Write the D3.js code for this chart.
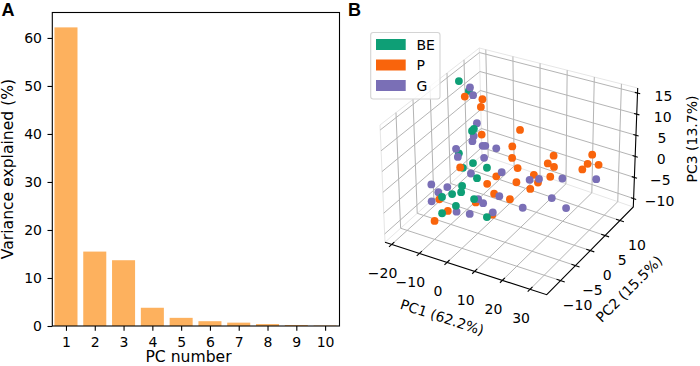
<!DOCTYPE html>
<html>
<head>
<meta charset="utf-8">
<style>
body { margin: 0; background: #fff; }
text { font-family: "DejaVu Sans"; font-size: 14px; fill: #000; }
.label2d { font-size: 15.6px; }
.panel { font-family: "Liberation Sans"; font-size: 18px; font-weight: bold; }
.grid { stroke: #b4b4b4; stroke-width: 1; fill: none; }
.pane { stroke: #e6e6e6; stroke-width: 1; fill: none; }
.axis3 { stroke: #000; stroke-width: 1.1; fill: none; }
</style>
</head>
<body>
<svg id="chart" width="700" height="366"></svg>
<script src="https://cdn.jsdelivr.net/npm/d3@7"></script>
<script>
// panel A
var pcNumbers = [1, 2, 3, 4, 5, 6, 7, 8, 9, 10];
var variance = [62.2, 15.5, 13.7, 3.8, 1.7, 1.0, 0.7, 0.4, 0.2, 0.1];

// panel B, [PC1, PC2, PC3]
var groupBE = [[-19.4,6,14.0],[-15.2,5.5,12.6],[-9.4,1.5,6.4],[-9.3,2,6.6],[-10.7,-1.5,2.7],[-5.6,-1.5,1.3],[-1.1,-1,0.7],[-7.5,-3,0.8],[-2.4,-3,-0.7],[-5.5,-5,-1.8],[-5.3,-5.5,-2.9],[-7.4,-6.5,-3.1],[-9.9,-7.5,-3.6],[-1.2,-5,-4.1],[-4.9,-7.5,-4.7],[-8.2,-9,-6.1],[4.6,-6,-6.5]];
var groupP = [[-15.5,4.5,11.8],[-10.3,5.5,11.4],[-10.3,5,9.8],[-6.5,2,5.7],[3.4,5.5,6.3],[3.5,3,4.0],[4.6,2,2.1],[15.8,5.5,2.4],[15.4,4,1.5],[17.7,4,1.1],[7.2,1.5,0.5],[27.2,8,3.1],[26.7,7,1.5],[30.2,7.5,1.6],[25.9,6,0.7],[-8.5,-3,0.7],[2.3,-1,-0.7],[12.6,2,-0.4],[17.5,3,-0.6],[0.7,-2.5,-1.8],[8.5,0,-1.6],[14.7,1.5,-1.5],[13.6,0,-2.2],[3.8,-3,-3.2],[9.0,-2.5,-3.8],[-10.3,-8,-3.9],[-0.0,-5.5,-4.3],[-6.7,-8.5,-5.6],[6.0,-5.5,-6.0],[-9.2,-10.5,-7.1]];
var groupG = [[-15.4,6,13.1],[-13.7,5.5,11.8],[-9.4,3,7.3],[-8.2,1,5.7],[-8.1,0.5,4.8],[-11.7,-1.5,3.6],[-10.5,-2,2.2],[-5.0,1,3.9],[-4.0,1,4.1],[-0.6,1.5,3.8],[-3.3,0,2.0],[-4.6,-3,-0.0],[3.7,-0.5,0.2],[12.2,1,-1.0],[14.5,2,-1.0],[21.4,3.5,-0.6],[31.1,6,-0.6],[-14.3,-7,-1.8],[-9.7,-6,-2.2],[-11.2,-7.5,-2.7],[-11.9,-9,-4.0],[0.3,-5,-3.8],[2.1,-5,-4.4],[5.7,-3,-3.4],[-4.1,-8,-5.6],[-0.5,-7,-6.1],[5.6,-5,-5.9],[13.7,-2.5,-4.9],[20.4,1,-3.7],[25.7,1,-5.0]];
// BE points that sit under the other groups in the picture
var beBehind = [1, 4, 7];

var groupNames = ["BE", "P", "G"];
var groupColors = ["#0e9f76", "#f9640c", "#7a6fb6"];
var pc1Ticks = [-20, -10, 0, 10, 20, 30];
var pc2Ticks = [-10, -5, 0, 5, 10];
var pc3Ticks = [-10, -5, 0, 5, 10, 15];

var svg = d3.select("#chart");

function fmt(d) { return String(d).replace("-", "\u2212"); }

function init_bars() {
    var left = 52.3, right = 339.5, top = 12.5, bottom = 326;
    var x = d3.scaleLinear().domain([0.525, 10.5]).range([left, right]);
    var y = d3.scaleLinear().domain([0, 65.3]).range([bottom, top]);
    var barWidth = x(1.8) - x(1);
    var g = svg.append("g");

    g.selectAll("rect").data(variance).enter().append("rect")
        .attr("x", function (d, i) { return x(pcNumbers[i]) - barWidth / 2; })
        .attr("y", function (d) { return y(d); })
        .attr("width", barWidth)
        .attr("height", function (d) { return bottom - y(d); })
        .attr("fill", "#fdb15e");

    g.append("rect")
        .attr("x", left).attr("y", top)
        .attr("width", right - left).attr("height", bottom - top)
        .attr("fill", "none").attr("stroke", "#000").attr("stroke-width", 1.1);

    var xAxis = g.append("g").attr("transform", "translate(0," + bottom + ")")
        .call(d3.axisBottom(x).tickValues(pcNumbers).tickFormat(d3.format("d")).tickSize(4.8).tickPadding(6));
    var yAxis = g.append("g").attr("transform", "translate(" + left + ",0)")
        .call(d3.axisLeft(y).tickValues([0, 10, 20, 30, 40, 50, 60]).tickSize(4.8).tickPadding(5.5));
    [xAxis, yAxis].forEach(function (a) {
        a.select(".domain").remove();
        a.selectAll("line").attr("stroke-width", 1.1);
        a.selectAll("text").style("font-size", "14px").style("font-family", "DejaVu Sans");
    });

    g.append("text").attr("class", "label2d").attr("x", 188.5).attr("y", 362.3).attr("text-anchor", "middle").text("PC number");
    g.append("text").attr("class", "label2d").attr("transform", "translate(12.5,169) rotate(-90)")
        .attr("text-anchor", "middle").text("Variance explained (%)");
    svg.append("text").attr("class", "panel").attr("x", 1.5).attr("y", 16.3).text("A");
}

function init_scatter3d() {
    var s1 = d3.scaleLinear().domain([-22.4, 36]).range([0, 1]),
        s2 = d3.scaleLinear().domain([-14.7, 14.5]).range([0, 1]),
        s3 = d3.scaleLinear().domain([-12, 16.2]).range([0, 1]);
    var min1 = -22.4, max1 = 36, min2 = -14.7, max2 = 14.5, min3 = -12, max3 = 16.2;

    // box corners on screen: floor then top, left / front / right / back
    var L0 = [385, 242.3], F0 = [546.7, 294.7], R0 = [633.3, 207], B0 = [482, 155],
        L1 = [380, 125], F1 = [547, 165], R1 = [637.7, 88], B1 = [479.3, 48];

    function lerp(a, b, t) { return [a[0] + (b[0] - a[0]) * t, a[1] + (b[1] - a[1]) * t]; }
    function project(a, b, c) {
        var u = s1(a), v = s2(b), w = s3(c);
        var lo = lerp(lerp(L0, F0, u), lerp(B0, R0, u), v),
            hi = lerp(lerp(L1, F1, u), lerp(B1, R1, u), v);
        return lerp(lo, hi, w);
    }

    var line = d3.line();
    var g = svg.append("g");
    function path(cls, pts) { g.append("path").attr("class", cls).attr("d", line(pts.map(function (p) { return project(p[0], p[1], p[2]); }))); }

    // pane edges
    path("pane", [[min1, min2, max3], [min1, max2, max3], [max1, max2, max3]]);
    path("pane", [[min1, min2, min3], [min1, max2, min3], [max1, max2, min3]]);
    path("pane", [[min1, min2, min3], [min1, min2, max3]]);
    path("pane", [[min1, max2, min3], [min1, max2, max3]]);

    // grid
    pc1Ticks.forEach(function (t) { path("grid", [[t, min2, min3], [t, max2, min3], [t, max2, max3]]); });
    pc2Ticks.forEach(function (t) { path("grid", [[max1, t, min3], [min1, t, min3], [min1, t, max3]]); });
    pc3Ticks.forEach(function (t) { path("grid", [[min1, min2, t], [min1, max2, t], [max1, max2, t]]); });

    // axis lines and ticks
    path("axis3", [[min1, min2, min3], [max1, min2, min3], [max1, max2, min3], [max1, max2, max3]]);
    pc1Ticks.forEach(function (t) {
        path("axis3", [[t, min2 - 0.8, min3], [t, min2 + 0.8, min3]]);
        var p = project(t, min2, min3);
        g.append("text").attr("x", p[0] - 9).attr("y", p[1] + 33.7).attr("text-anchor", "middle").text(fmt(t));
    });
    pc2Ticks.forEach(function (t) {
        path("axis3", [[max1 - 1.5, t, min3], [max1 + 1.5, t, min3]]);
        var p = project(max1, t, min3);
        g.append("text").attr("x", p[0] + 17).attr("y", p[1] + 29).attr("text-anchor", "middle").text(fmt(t));
    });
    pc3Ticks.forEach(function (t) {
        path("axis3", [[max1 - 1, max2, t], [max1 + 1, max2, t]]);
        var p = project(max1, max2, t);
        g.append("text").attr("x", p[0] + 26).attr("y", p[1] + 7.5).attr("text-anchor", "middle").text(fmt(t));
    });

    g.append("text").attr("transform", "translate(440.7,322) rotate(18)").attr("text-anchor", "middle").text("PC1 (62.2%)");
    g.append("text").attr("transform", "translate(632.5,292.5) rotate(-45)").attr("text-anchor", "middle").text("PC2 (15.5%)");
    g.append("text").attr("transform", "translate(697,139) rotate(-90)").attr("text-anchor", "middle").text("PC3 (13.7%)");

    function dots(data, color) {
        g.append("g").selectAll("circle").data(data).enter().append("circle")
            .attr("cx", function (d) { return project(d[0], d[1], d[2])[0]; })
            .attr("cy", function (d) { return project(d[0], d[1], d[2])[1]; })
            .attr("r", 3.9)
            .attr("fill", color);
    }
    dots(groupBE.filter(function (d, i) { return beBehind.indexOf(i) >= 0; }), groupColors[0]);
    dots(groupP, groupColors[1]);
    dots(groupG, groupColors[2]);
    dots(groupBE.filter(function (d, i) { return beBehind.indexOf(i) < 0; }), groupColors[0]);

    // legend
    var lg = svg.append("g");
    lg.append("rect").attr("x", 370.7).attr("y", 32.5).attr("width", 69.3).attr("height", 66.5)
        .attr("rx", 2.5).attr("fill", "#fff").attr("fill-opacity", 0.8).attr("stroke", "#d4d4d4").attr("stroke-width", 1.1);
    var legendY = d3.scalePoint().domain(groupNames).range([39, 80]);
    groupNames.forEach(function (n, i) {
        lg.append("rect").attr("x", 376).attr("y", legendY(n)).attr("width", 29.7).attr("height", 11).attr("fill", groupColors[i]);
        lg.append("text").attr("x", 416.5).attr("y", legendY(n) + 10.5).text(n);
    });
    svg.append("text").attr("class", "panel").attr("x", 348).attr("y", 16.3).text("B");
}

init_bars();
init_scatter3d();
</script>
</body>
</html>
